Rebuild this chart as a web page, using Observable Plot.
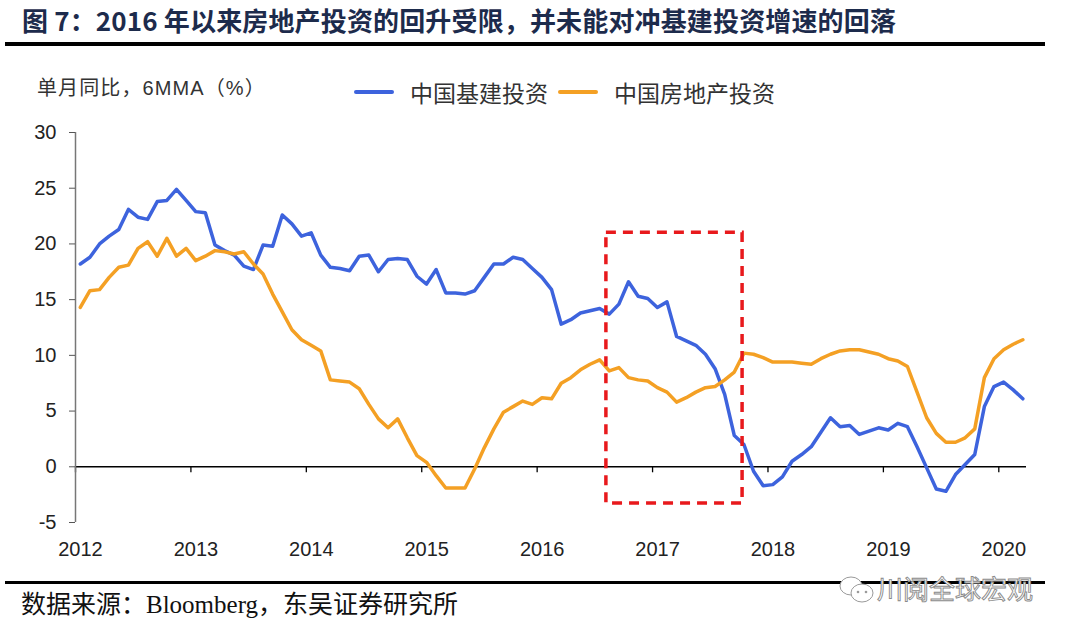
<!DOCTYPE html>
<html><head><meta charset="utf-8">
<script src="https://cdn.jsdelivr.net/npm/d3@7"></script>
<script src="https://cdn.jsdelivr.net/npm/@observablehq/plot@0.6"></script>
<style>
body{margin:0;background:#fff;}
#page{position:relative;width:1080px;height:638px;overflow:hidden;background:#fff;font-family:"Liberation Sans","Noto Sans CJK SC",sans-serif;}
#title{position:absolute;left:22px;top:6px;font-family:"Noto Sans CJK SC",sans-serif;font-weight:700;font-size:26px;line-height:28px;color:#1d2b4c;white-space:nowrap;letter-spacing:0.15px;}
.hr{position:absolute;left:5px;width:1040px;background:#000;}
#chart{position:absolute;left:0;top:50px;}
#ylab{position:absolute;left:37px;top:76px;font-size:20px;line-height:24px;color:#333;white-space:nowrap;letter-spacing:1.1px;}
.leg{position:absolute;top:79px;font-size:23px;line-height:26px;color:#333;white-space:nowrap;font-family:"Noto Sans CJK SC",sans-serif;}
.sw{position:absolute;top:90px;height:4px;width:40px;border-radius:2px;}
#src{position:absolute;left:21px;top:590px;font-family:"Liberation Serif","Noto Sans CJK SC",serif;font-size:25px;line-height:30px;color:#111;white-space:nowrap;}
#wm{position:absolute;left:877px;top:572px;font-family:"Noto Sans CJK SC",sans-serif;font-size:26px;line-height:32px;color:#fff;-webkit-text-stroke:0.9px #8a8a8a;white-space:nowrap;}
#wmi{position:absolute;left:838px;top:574px;}
</style></head><body><div id="page">
<div id="title">图 7：2016 年以来房地产投资的回升受限，并未能对冲基建投资增速的回落</div>
<div class="hr" style="top:42px;height:4px;"></div>
<div id="chart"></div>
<div id="ylab">单月同比，6MMA（%）</div>
<div class="sw" style="left:354px;background:#3d63dd;"></div>
<div class="leg" style="left:410px;">中国基建投资</div>
<div class="sw" style="left:558px;background:#f4a024;"></div>
<div class="leg" style="left:614px;">中国房地产投资</div>
<div class="hr" style="top:581px;height:3px;"></div>
<div id="src">数据来源：Bloomberg，东吴证券研究所</div>
<svg id="wmi" width="38" height="32" viewBox="0 0 38 32"><ellipse cx="13" cy="12" rx="11" ry="9" fill="#fff" stroke="#9a9a9a" stroke-width="1"/><ellipse cx="24" cy="19" rx="11" ry="9" fill="#fff" stroke="#9a9a9a" stroke-width="1"/><circle cx="20" cy="18" r="1.3" fill="#9a9a9a"/><circle cx="28" cy="18" r="1.3" fill="#9a9a9a"/></svg>
<div id="wm">川阅全球宏观</div>
</div>
<script>
// Monthly series, Jan 2012 – Mar 2020 (6MMA, single-month YoY, %)
const startYear = 2012;
const seriesNames = ["中国基建投资", "中国房地产投资"];
const seriesColors = ["#3d63dd", "#f4a024"];
const infra = [
  18.2,18.8,20.0,20.7,21.3,23.1,22.4,22.2,23.8,23.9,24.9,23.9,
  22.9,22.8,19.9,19.4,19.0,18.0,17.7,19.9,19.8,22.6,21.8,20.7,
  21.0,19.0,17.9,17.8,17.6,18.9,19.0,17.5,18.6,18.7,18.6,17.1,
  16.4,17.7,15.6,15.6,15.5,15.8,17.0,18.2,18.2,18.8,18.6,17.8,
  17.0,15.9,12.8,13.2,13.8,14.0,14.2,13.7,14.6,16.6,15.3,15.1,
  14.3,14.8,11.7,11.3,10.9,10.1,8.8,6.5,2.8,2.0,-0.4,-1.7,
  -1.6,-0.9,0.5,1.1,1.8,3.1,4.4,3.6,3.7,2.9,3.2,3.5,
  3.3,3.9,3.6,1.8,-0.1,-2.0,-2.2,-0.7,0.2,1.1,5.4,7.2,
  7.6,6.9,6.1
];
const realty = [
  14.3,15.8,15.9,17.0,17.9,18.1,19.6,20.2,18.9,20.5,18.9,19.6,
  18.5,18.9,19.4,19.3,19.1,19.3,18.2,17.3,15.5,13.9,12.3,11.4,
  10.9,10.4,7.8,7.7,7.6,7.0,5.6,4.3,3.5,4.3,2.6,1.0,
  0.4,-0.8,-1.9,-1.9,-1.9,-0.2,1.7,3.4,4.9,5.4,5.9,5.6,
  6.2,6.1,7.5,8.0,8.7,9.2,9.6,8.6,8.9,8.0,7.8,7.7,
  7.1,6.7,5.8,6.2,6.7,7.1,7.2,7.8,8.5,10.2,10.1,9.8,
  9.4,9.4,9.4,9.3,9.2,9.7,10.1,10.4,10.5,10.5,10.3,10.1,
  9.7,9.5,9.0,6.7,4.4,3.0,2.2,2.2,2.6,3.4,8.0,9.7,
  10.5,11.0,11.4
];
const yearTicks = [2012,2013,2014,2015,2016,2017,2018,2019,2020];
const yTicks = [-5,0,5,10,15,20,25,30];
const highlight = [{x1: 2016.6, x2: 2017.78, y1: -3.3, y2: 21}];

const monthPos = i => startYear + (i + 0.5) / 12;
const rows = [
  ...infra.map((v, i) => ({t: monthPos(i), v, s: seriesNames[0]})),
  ...realty.map((v, i) => ({t: monthPos(i), v, s: seriesNames[1]}))
];

const chart = Plot.plot({
  width: 1080,
  height: 530,
  marginTop: 82,
  marginBottom: 58,
  marginLeft: 75,
  marginRight: 54,
  style: {fontFamily: "Liberation Sans, Arial, sans-serif", fontSize: "20px", color: "#222", background: "transparent"},
  x: {domain: [2012, 2020.24]},
  y: {domain: [-5, 30]},
  color: {domain: seriesNames, range: seriesColors},
  marks: [
    Plot.ruleY([0], {stroke: "#000", strokeWidth: 1.5}),
    Plot.ruleX(yearTicks, {x: d => d, y1: 0, y2: 0, insetBottom: -6, stroke: "#000", strokeWidth: 1.3}),
    Plot.ruleX([2012], {stroke: "#777", strokeWidth: 1.5}),
    Plot.axisY({ticks: yTicks, tickSize: 6, tickPadding: 13, tickFormat: d => String(d), stroke: "#555", fill: "#222", fontSize: 20, label: null}),
    Plot.axisX({ticks: yearTicks, tickSize: 0, tickPadding: 19, tickFormat: d => String(d), fill: "#222", fontSize: 20, dx: 5, label: null}),
    Plot.line(rows, {x: "t", y: "v", z: "s", stroke: "s", strokeWidth: 3.5, strokeLinejoin: "round", strokeLinecap: "round"}),
    Plot.rect(highlight, {x1: "x1", x2: "x2", y1: "y1", y2: "y2", fill: "none", stroke: "#e8191c", strokeWidth: 3.5, strokeDasharray: "10,7"})
  ]
});
document.getElementById("chart").appendChild(chart);
</script>
</body></html>
